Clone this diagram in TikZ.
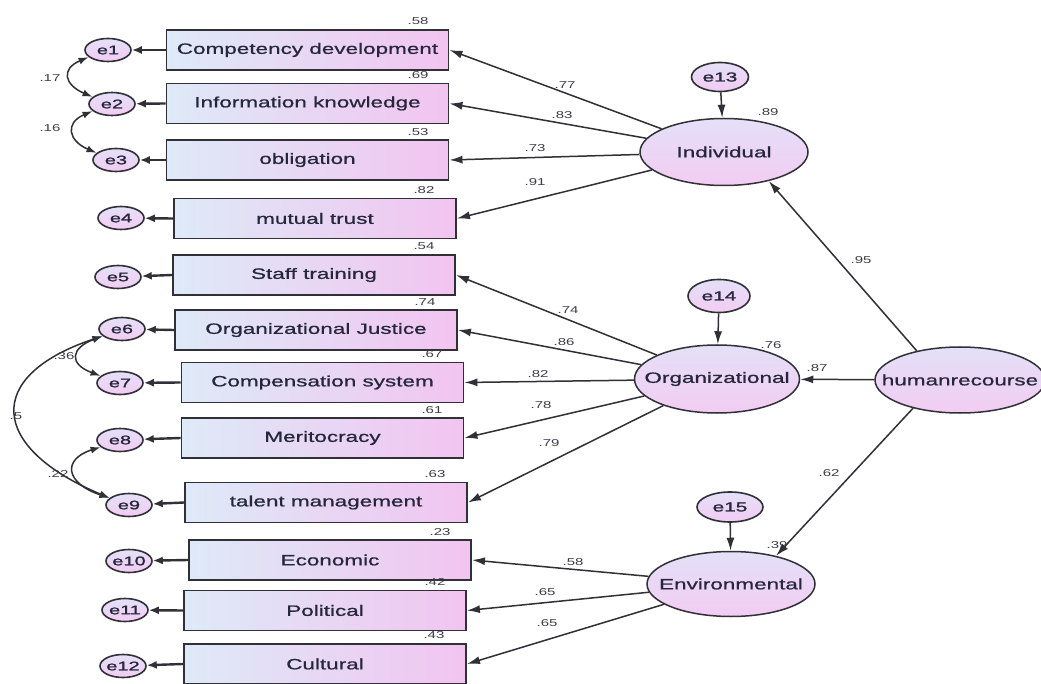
\documentclass[tikz,border=0pt]{standalone}
\usepackage{fontspec}
\setmainfont{Liberation Sans}
\newfontfamily\boxfont[FakeStretch=1.5,FakeBold=0.8]{Liberation Sans}
\newfontfamily\numfont[FakeStretch=1.5]{Liberation Sans}
\newfontfamily\errfont[FakeStretch=1.6,FakeBold=1.5]{Liberation Sans}
\usetikzlibrary{shapes.geometric,arrows.meta}

\definecolor{boxl}{RGB}{222,234,248}
\definecolor{boxr}{RGB}{242,196,240}
\definecolor{ellt}{RGB}{228,224,248}
\definecolor{ellb}{RGB}{242,204,242}
\definecolor{linec}{RGB}{48,48,54}
\definecolor{txt}{RGB}{38,38,60}
\definecolor{numc}{RGB}{60,60,70}

\begin{document}
\begin{tikzpicture}[x=1pt,y=1pt,
  obsbox/.style={rectangle, draw=linec, line width=1.9pt, minimum width=282pt,
    minimum height=40pt, inner sep=0pt, left color=boxl, right color=boxr,
    text=txt, font=\boxfont\fontsize{15}{15}\selectfont},
  latent/.style={ellipse, draw=linec, line width=1.5pt, top color=ellt,
    bottom color=ellb, inner xsep=-25pt, inner ysep=0pt, text=txt,
    font=\boxfont\fontsize{15}{15}\selectfont},
  errnode/.style={ellipse, draw=linec, line width=1.6pt, top color=ellt,
    bottom color=ellb, minimum width=46pt, minimum height=23pt,
    inner xsep=-8pt, inner ysep=0pt, text=txt,
    font=\errfont\fontsize{12.5}{12.5}\selectfont},
  numlbl/.style={inner sep=0pt, text=numc, font=\numfont\fontsize{10}{10}\selectfont},
  loadarrow/.style={draw=linec, line width=1.5pt, -{Latex[length=13pt,width=8pt]}},
  errarrow/.style={draw=linec, line width=2.4pt, -{Latex[length=10pt,width=8pt]}},
  covarrow/.style={draw=linec, line width=1.5pt,
    {Latex[length=10pt,width=7pt]}-{Latex[length=10pt,width=7pt]}}
]
\useasboundingbox (0,0) rectangle (1041,-684);
\clip (0,0) rectangle (1041,-684);
\fill[white] (0,0) rectangle (1041,-684);

% observed indicators
\node[obsbox] (cd) at (307.5,-50)  {Competency development};
\node[obsbox] (ik) at (307.5,-103.5) {Information knowledge};
\node[obsbox] (ob) at (307.5,-160) {obligation};
\node[obsbox] (mt) at (315,-218.5) {mutual trust};
\node[obsbox] (st) at (314,-275)   {Staff training};
\node[obsbox] (oj) at (316,-330)   {Organizational Justice};
\node[obsbox] (cs) at (322.5,-382.5) {Compensation system};
\node[obsbox] (me) at (322.5,-438) {Meritocracy};
\node[obsbox] (tm) at (326,-502.5) {talent management};
\node[obsbox] (ec) at (330,-560)   {Economic};
\node[obsbox] (po) at (325,-610.5) {Political};
\node[obsbox] (cu) at (325,-664)   {Cultural};

% squared multiple correlations of the indicators
\node[numlbl] at (418,-21)  {.58};
\node[numlbl] at (418,-75)  {.69};
\node[numlbl] at (418,-132) {.53};
\node[numlbl] at (424,-190) {.82};
\node[numlbl] at (424,-246) {.54};
\node[numlbl] at (425,-302) {.74};
\node[numlbl] at (432,-354) {.67};
\node[numlbl] at (432,-410) {.61};
\node[numlbl] at (435,-474) {.63};
\node[numlbl] at (440,-532) {.23};
\node[numlbl] at (435,-582) {.42};
\node[numlbl] at (434,-635) {.43};

% measurement errors
\node[errnode] (e1)  at (108,-50)  {e1};
\node[errnode] (e2)  at (112,-104) {e2};
\node[errnode] (e3)  at (116,-160) {e3};
\node[errnode] (e4)  at (121,-218) {e4};
\node[errnode] (e5)  at (118,-277) {e5};
\node[errnode] (e6)  at (122,-329) {e6};
\node[errnode] (e7)  at (120,-383) {e7};
\node[errnode] (e8)  at (120,-440) {e8};
\node[errnode] (e9)  at (129,-505) {e9};
\node[errnode] (e10) at (129,-561) {e10};
\node[errnode] (e11) at (125,-610) {e11};
\node[errnode] (e12) at (123,-666) {e12};

\foreach \b/\e in {cd/e1,ik/e2,ob/e3,mt/e4,st/e5,oj/e6,cs/e7,me/e8,tm/e9,ec/e10,po/e11,cu/e12}
  \draw[errarrow] (\b.west) -- (\e);

% error covariances
\draw[covarrow] (e1.200) .. controls +(-28,-12) and +(-28,12) .. (e2.160);
\draw[covarrow] (e2.200) .. controls +(-28,-12) and +(-28,12) .. (e3.160);
\draw[covarrow] (e6.200) .. controls +(-32,-12) and +(-32,12) .. (e7.160);
\draw[covarrow] (e8.200) .. controls +(-38,-12) and +(-45,15) .. (e9.160);
\draw[covarrow] (e6.200) .. controls +(-120,-40) and +(-120,50) .. (e9.160);
\node[numlbl] (c12) at (50,-78)  {.17};
\node[numlbl] (c23) at (50,-128) {.16};
\node[numlbl] (c67) at (64,-356) {.36};
\node[numlbl] (c89) at (58,-474) {.22};
\node[numlbl] (c69) at (16,-416) {.5};

% latent factors
\node[latent, minimum width=168pt, minimum height=67pt] (ind) at (724,-152) {Individual};
\node[latent, minimum width=165pt, minimum height=68pt] (org) at (717,-379) {Organizational};
\node[latent, minimum width=168pt, minimum height=65pt] (env) at (731,-584) {Environmental};
\node[latent, minimum width=170pt, minimum height=66pt] (hr)  at (960,-380) {humanrecourse};

% disturbances
\node[errnode, minimum width=57pt, minimum height=29pt, font=\errfont\fontsize{13}{13}\selectfont] (e13) at (720,-77)  {e13};
\node[errnode, minimum width=62pt, minimum height=33pt, font=\errfont\fontsize{13}{13}\selectfont] (e14) at (719,-296) {e14};
\node[errnode, minimum width=66pt, minimum height=30pt, font=\errfont\fontsize{13}{13}\selectfont] (e15) at (730,-507) {e15};
\draw[loadarrow] (e13) -- (ind);
\draw[loadarrow] (e14) -- (org);
\draw[loadarrow] (e15) -- (env);

% R-squared of the factors
\node[numlbl] at (768,-112) {.89};
\node[numlbl] at (771,-345) {.76};
\node[numlbl] at (777,-545) {.39};

% structural paths
\draw[loadarrow] (hr.146) -- (ind.327);
\draw[loadarrow] (hr) -- (org);
\draw[loadarrow] (hr.211) -- (env.32);
\node[numlbl] at (861,-260) {.95};
\node[numlbl] at (817,-368) {.87};
\node[numlbl] at (829,-473) {.62};

% factor loadings
\foreach \b in {cd,ik,ob,mt} \draw[loadarrow] (ind) -- (\b.east);
\foreach \b in {st,oj,cs,me,tm} \draw[loadarrow] (org) -- (\b.east);
\foreach \b in {ec,po,cu} \draw[loadarrow] (env) -- (\b.east);

\node[numlbl] at (565,-85)  {.77};
\node[numlbl] at (562,-115) {.83};
\node[numlbl] at (535,-148) {.73};
\node[numlbl] at (535,-182) {.91};
\node[numlbl] at (568,-310) {.74};
\node[numlbl] at (564,-342) {.86};
\node[numlbl] at (538,-374) {.82};
\node[numlbl] at (541,-405) {.78};
\node[numlbl] at (549,-443) {.79};
\node[numlbl] at (573,-562) {.58};
\node[numlbl] at (545,-592) {.65};
\node[numlbl] at (547,-623) {.65};
\end{tikzpicture}
\end{document}
